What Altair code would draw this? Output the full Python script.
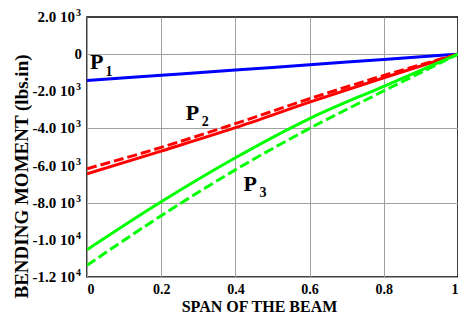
import altair as alt
import pandas as pd

span = [0.0, 0.2, 0.4, 0.6, 0.8, 1.0]
p1 = [-1420, -1140, -860, -570, -290, 0]
p2_solid = [-6450, -5220, -3960, -2580, -1270, 0]
p2_dash = [-6170, -5020, -3740, -2400, -1150, 0]
p3_solid = [-10530, -7950, -5580, -3470, -1730, 0]
p3_dash = [-11370, -8700, -6230, -4000, -1980, 0]

# y tick labels: mantissa part and exponent (superscript) part
y_ticks = [-12000, -10000, -8000, -6000, -4000, -2000, 2000]
y_main = ["-1.2 10", "-1.0 10", "-8.0 10", "-6.0 10", "-4.0 10", "-2.0 10", "2.0 10"]
y_exp = ["4", "4", "3", "3", "3", "3", "3"]
y_zero = [0]
y_zero_label = ["0"]
x_ticks = [0, 0.2, 0.4, 0.6, 0.8, 1]
y_grid = [-12000, -10000, -8000, -6000, -4000, -2000, 0, 2000]

lab_main = ["P", "P", "P"]
lab_sub = ["1", "2", "3"]
lab_x = [0.008, 0.266, 0.422]
lab_y = [-780, -3520, -7380]
sub_x = [0.050, 0.309, 0.465]
sub_y = [-1150, -3860, -7700]

series = [("p1", p1, "#0000ff", False),
          ("p2s", p2_solid, "#ff0000", False),
          ("p2d", p2_dash, "#ff0000", True),
          ("p3s", p3_solid, "#00ff00", False),
          ("p3d", p3_dash, "#00ff00", True)]

FONT = "Liberation Serif"

xs = alt.Scale(domain=[0, 1], nice=False)
ys = alt.Scale(domain=[-12000, 2000], nice=False)

layers = []
first = True
for name, vals, col, dashed in series:
    df = pd.DataFrame({"x": span, "y": vals})
    kw = dict(color=col, strokeWidth=3, interpolate="monotone", clip=True)
    if dashed:
        kw["strokeDash"] = [10, 4]
    if first:
        xenc = alt.X("x:Q", scale=xs, title="SPAN OF THE BEAM",
                     axis=alt.Axis(values=x_ticks, format="~g", grid=True,
                                   labelPadding=5, labelOverlap=False,
                                   titleFontSize=16,
                                   titleX=172, titleY=34, titleBaseline="alphabetic"))
        yenc = alt.Y("y:Q", scale=ys, title="BENDING MOMENT (lbs.in)",
                     axis=alt.Axis(values=y_grid, grid=True, labels=False,
                                   titleFontSize=19,
                                   titleX=-56, titleY=159, titleBaseline="bottom"))
        first = False
    else:
        xenc = alt.X("x:Q", scale=xs)
        yenc = alt.Y("y:Q", scale=ys)
    layers.append(alt.Chart(df).mark_line(**kw).encode(x=xenc, y=yenc))

# y tick labels drawn as text marks
ylab = pd.DataFrame({"x": [0] * len(y_ticks), "y": y_ticks, "m": y_main, "e": y_exp})
zlab = pd.DataFrame({"x": [0], "y": y_zero, "m": y_zero_label})
layers.append(alt.Chart(ylab).mark_text(font=FONT, fontSize=15, fontWeight="bold",
                                        align="right", baseline="middle", dx=-12, color="black")
              .encode(x=alt.X("x:Q", scale=xs), y=alt.Y("y:Q", scale=ys), text="m:N"))
layers.append(alt.Chart(ylab).mark_text(font=FONT, fontSize=10, fontWeight="bold",
                                        align="left", baseline="middle", dx=-11, dy=-4, color="black")
              .encode(x=alt.X("x:Q", scale=xs), y=alt.Y("y:Q", scale=ys), text="e:N"))
layers.append(alt.Chart(zlab).mark_text(font=FONT, fontSize=15, fontWeight="bold",
                                        align="right", baseline="middle", dx=-5, color="black")
              .encode(x=alt.X("x:Q", scale=xs), y=alt.Y("y:Q", scale=ys), text="m:N"))

ldf = pd.DataFrame({"x": lab_x, "y": lab_y, "t": lab_main})
sdf = pd.DataFrame({"x": sub_x, "y": sub_y, "t": lab_sub})
layers.append(alt.Chart(ldf).mark_text(font=FONT, fontSize=22, fontWeight="bold",
                                       align="left", baseline="alphabetic", color="black")
              .encode(x=alt.X("x:Q", scale=xs), y=alt.Y("y:Q", scale=ys), text="t:N"))
layers.append(alt.Chart(sdf).mark_text(font=FONT, fontSize=14, fontWeight="bold",
                                       align="left", baseline="alphabetic", color="black")
              .encode(x=alt.X("x:Q", scale=xs), y=alt.Y("y:Q", scale=ys), text="t:N"))

chart = alt.layer(*layers).properties(
    width=371, height=260,
    autosize=alt.AutoSizeParams(type="none"),
    padding={"left": 79, "top": 9, "right": 0, "bottom": 37},
).configure_view(stroke="black", strokeWidth=1.5).configure_axis(
    gridColor="#a0a0a0", gridWidth=1, gridOpacity=1,
    domain=False, ticks=False,
    labelFont=FONT, labelFontSize=14, labelFontWeight="bold", labelColor="black",
    titleFont=FONT, titleFontWeight="bold", titleColor="black",
)

chart.save("out.html", embed_options={"renderer": "svg", "actions": False})
